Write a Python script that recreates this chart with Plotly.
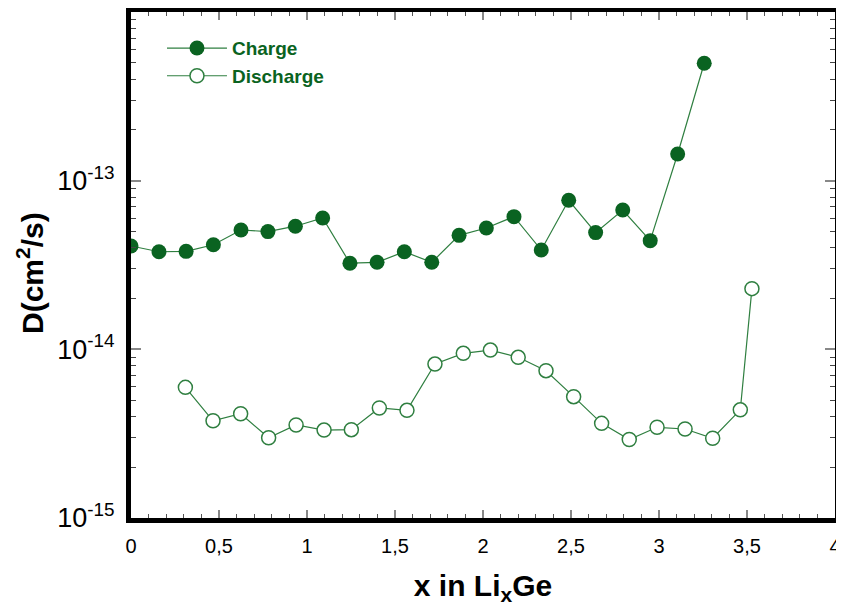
import plotly.graph_objects as go

charge_x = [0.0, 0.159, 0.313, 0.468, 0.625, 0.778, 0.934, 1.089, 1.244, 1.398, 1.553,
            1.709, 1.864, 2.019, 2.176, 2.331, 2.487, 2.640, 2.794, 2.950, 3.106, 3.257]
charge_d = [4.10e-14, 3.79e-14, 3.81e-14, 4.17e-14, 5.10e-14, 4.99e-14, 5.37e-14, 6.01e-14,
            3.24e-14, 3.28e-14, 3.79e-14, 3.28e-14, 4.74e-14, 5.24e-14, 6.12e-14, 3.88e-14,
            7.65e-14, 4.92e-14, 6.70e-14, 4.41e-14, 1.44e-13, 4.97e-13]

discharge_x = [0.309, 0.466, 0.623, 0.782, 0.938, 1.097, 1.252, 1.411, 1.568, 1.727, 1.888,
               2.042, 2.200, 2.358, 2.515, 2.674, 2.831, 2.989, 3.148, 3.305, 3.462, 3.528]
discharge_d = [5.95e-15, 3.77e-15, 4.15e-15, 2.99e-15, 3.56e-15, 3.32e-15, 3.34e-15, 4.49e-15,
               4.35e-15, 8.18e-15, 9.47e-15, 9.90e-15, 8.97e-15, 7.47e-15, 5.24e-15, 3.64e-15,
               2.92e-15, 3.45e-15, 3.37e-15, 2.97e-15, 4.38e-15, 2.29e-14]

x_tickvals = [0, 0.5, 1, 1.5, 2, 2.5, 3, 3.5, 4]
x_ticktext = ["0", "0,5", "1", "1,5", "2", "2,5", "3", "3,5", "4"]
y_tickvals = [1e-15, 1e-14, 1e-13]
y_ticktext = ["10<sup>-15</sup>", "10<sup>-14</sup>", "10<sup>-13</sup>"]

dark_green = "#0a6321"
line_green = "#2f7f40"

fig = go.Figure()
fig.add_trace(go.Scatter(
    x=charge_x, y=charge_d, mode="lines+markers", name="Charge",
    line=dict(color=line_green, width=1.2),
    marker=dict(symbol="circle", size=15, color=dark_green, line=dict(color=dark_green, width=0)),
))
fig.add_trace(go.Scatter(
    x=discharge_x, y=discharge_d, mode="lines+markers", name="Discharge",
    line=dict(color=line_green, width=1.2),
    marker=dict(symbol="circle", size=14, color="white", line=dict(color=line_green, width=1.5)),
))

# the page body has an 8px default margin, so the figure is 8px smaller than the window
fig.update_layout(
    width=836, height=606,
    margin=dict(l=123, r=9, t=4, b=96, autoexpand=False),
    paper_bgcolor="white", plot_bgcolor="white",
    font=dict(family="Liberation Sans, Arial, sans-serif", color="black"),
    showlegend=True,
    legend=dict(
        x=0.044, y=0.966, xanchor="left", yanchor="top",
        bgcolor="rgba(0,0,0,0)", borderwidth=0,
        font=dict(size=19, color=dark_green, family="Liberation Sans, Arial, sans-serif", weight="bold"),
        itemwidth=60, tracegroupgap=0,
    ),
    xaxis=dict(
        range=[0, 4], tickmode="array", tickvals=x_tickvals, ticktext=x_ticktext,
        ticks="inside", ticklen=8, tickwidth=1.5, tickcolor="#888888",
        minor=dict(dtick=0.1, ticks="inside", ticklen=4, tickwidth=1, tickcolor="#555555"),
        showline=True, linewidth=5, linecolor="black", mirror="allticks",
        showgrid=False, zeroline=False, automargin=False,
        tickfont=dict(size=20), ticklabeloverflow="allow",
        ticklabelstandoff=6,
        title=dict(text="x in Li<sub>x</sub>Ge", font=dict(size=30, weight="bold"), standoff=20),
    ),
    yaxis=dict(
        type="log", range=[-15, -12], tickmode="array", tickvals=y_tickvals, ticktext=y_ticktext,
        ticks="inside", ticklen=10, tickwidth=1.5, tickcolor="#888888",
        minor=dict(tickvals=[m * 10 ** e for e in (-15, -14, -13) for m in range(2, 10)],
                   ticks="inside", ticklen=5, tickwidth=1, tickcolor="#444444"),
        showline=True, linewidth=5, linecolor="black", mirror="allticks",
        showgrid=False, zeroline=False, automargin=False,
        tickfont=dict(size=27),
        ticklabelstandoff=6,
    ),
    annotations=[dict(
        text="D(cm<sup>2</sup>/s)", textangle=-90, showarrow=False,
        xref="paper", yref="paper", x=0, y=0.5, xanchor="center", yanchor="middle",
        xshift=-101, yshift=-8,
        font=dict(size=30, weight="bold", color="black"),
    )],
)

fig.write_html("out.html")
